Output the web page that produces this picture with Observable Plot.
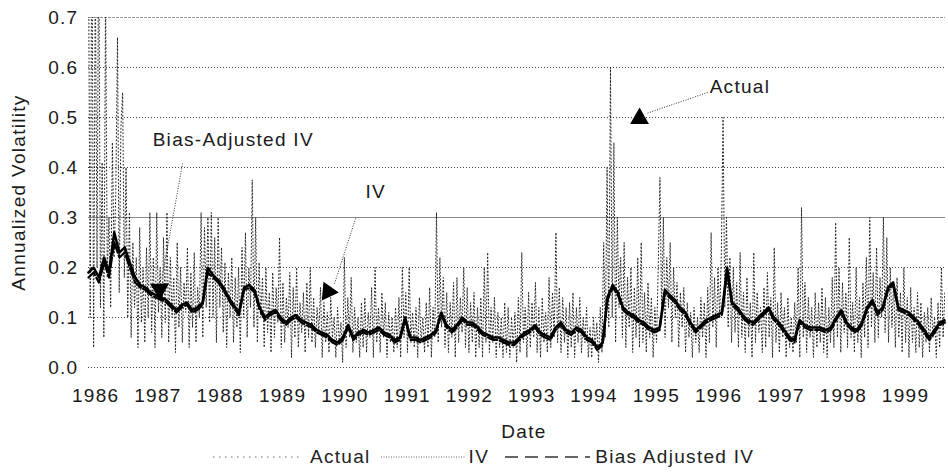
<!DOCTYPE html>
<html>
<head>
<meta charset="utf-8">
<script src="https://cdn.jsdelivr.net/npm/d3@7"></script>
<script src="https://cdn.jsdelivr.net/npm/@observablehq/plot@0.6"></script>
<style>
  html, body { margin: 0; padding: 0; background: #fff; }
  #wrap { width: 948px; height: 472px; position: relative; font-family: "Liberation Sans", Arial, sans-serif; }
  #legend { height: 30px; display: flex; align-items: center; font-size: 19px; letter-spacing: 1.3px; color: #222; padding-left: 213px; }
  #legend svg { display: block; }
</style>
</head>
<body>
<div id="wrap"><div id="chart"></div><div id="legend"></div></div>
<script>
// ---- data ----
const startDate = new Date(Date.UTC(1985, 10, 20));
const endDate = new Date(Date.UTC(1999, 7, 23));
const tickYears = [1986,1987,1988,1989,1990,1991,1992,1993,1994,1995,1996,1997,1998,1999];
const yTicks = [0, 0.1, 0.2, 0.3, 0.4, 0.5, 0.6, 0.7];

// Actual volatility, one value per 10 days from startDate
const actualValues = [
 .85,.10,.95,.04,.80,.20, .90,.12,.41,.06,.75,.18, .30,.12,.45,.22,.35,.66, .15,.48,.55,.18,.40,.10,
 .31,.06,.25,.12,.22,.04, .28,.09,.20,.05,.24,.10, .31,.07,.22,.04,.31,.11, .20,.06,.26,.09,.31,.05,
 .22,.10,.18,.03,.25,.08, .20,.05,.17,.11,.24,.04, .19,.08,.23,.05,.16,.10, .31,.06,.28,.12,.30,.09,
 .31,.10,.26,.05,.30,.12, .24,.07,.21,.04,.19,.10, .22,.05,.18,.08,.20,.03, .24,.10,.27,.06,.20,.12,
 .375,.08,.30,.05,.21,.10, .18,.04,.20,.07,.15,.03, .19,.06,.16,.09,.26,.04, .17,.05,.14,.08,.19,.02,
 .16,.06,.20,.04,.13,.07, .15,.03,.17,.06,.20,.05, .14,.04,.12,.07,.16,.02, .13,.05,.11,.03,.14,.06,
 .10,.02,.12,.05,.09,.01, .22,.04,.14,.06,.18,.03, .12,.05,.10,.02,.13,.04, .14,.03,.11,.06,.16,.02,
 .20,.05,.12,.03,.15,.06, .13,.02,.11,.05,.10,.03, .12,.04,.14,.02,.20,.06, .15,.03,.20,.05,.11,.04,
 .12,.02,.14,.05,.10,.03, .13,.04,.16,.02,.12,.06, .31,.05,.22,.08,.18,.04, .15,.03,.13,.06,.17,.02,
 .18,.05,.14,.07,.20,.04, .16,.03,.13,.05,.15,.02, .12,.04,.14,.02,.20,.05, .23,.03,.12,.05,.14,.02,
 .11,.04,.10,.02,.13,.03, .12,.02,.10,.04,.11,.01, .14,.03,.23,.05,.12,.02, .15,.04,.13,.06,.17,.03,
 .12,.02,.14,.05,.11,.03, .18,.04,.15,.06,.27,.05, .16,.03,.14,.05,.12,.02, .13,.04,.15,.02,.12,.05,
 .14,.03,.10,.05,.12,.02, .08,.02,.10,.04,.09,.01, .12,.03,.25,.06,.40,.08, .60,.10,.45,.05,.30,.12,
 .22,.06,.25,.04,.18,.08, .20,.03,.16,.06,.22,.04, .25,.05,.15,.03,.17,.06, .14,.02,.12,.05,.20,.38,
 .10,.30,.06,.22,.12,.25, .05,.20,.10,.17,.04,.15, .08,.16,.03,.13,.06,.11, .02,.12,.05,.10,.03,.14,
 .06,.13,.02,.16,.05,.27, .08,.18,.04,.20,.10,.23, .50,.12,.30,.08,.22,.05, .20,.07,.17,.04,.23,.06,
 .15,.03,.18,.06,.13,.02, .23,.05,.15,.07,.12,.03, .16,.04,.19,.06,.14,.02, .24,.05,.13,.03,.15,.06,
 .12,.02,.14,.04,.10,.03, .13,.05,.20,.02,.32,.06, .17,.03,.14,.06,.12,.02, .15,.04,.13,.05,.16,.03,
 .14,.02,.12,.05,.18,.04, .29,.06,.20,.03,.17,.07, .15,.04,.26,.06,.13,.03, .20,.05,.14,.02,.17,.06,
 .22,.04,.30,.08,.19,.05, .24,.06,.18,.10,.30,.07, .26,.05,.20,.08,.17,.04, .18,.06,.15,.03,.20,.05,
 .14,.02,.16,.05,.12,.03, .15,.04,.13,.02,.11,.05, .12,.03,.14,.06,.10,.02, .13,.04,.20,.06,.15
];

// Implied volatility, monthly from startDate
const ivValues = [
 .19,.20,.18,.22,.19,.27,.23,.24,.21,.18,
 .165,.16,.15,.145,.14,.135,.125,.115,.125,.13,
 .115,.12,.13,.20,.185,.175,.16,.14,.125,.11,
 .16,.165,.155,.12,.10,.11,.115,.10,.09,.10,
 .105,.095,.09,.085,.075,.07,.065,.055,.05,.06,
 .085,.06,.07,.075,.07,.075,.08,.07,.065,.055,
 .06,.10,.06,.06,.055,.06,.065,.075,.11,.085,
 .075,.085,.10,.09,.09,.08,.07,.065,.06,.06,
 .055,.05,.05,.06,.07,.075,.085,.07,.065,.06,
 .08,.09,.075,.07,.08,.075,.06,.055,.04,.05,
 .14,.165,.15,.12,.11,.105,.095,.09,.08,.075,
 .08,.155,.145,.135,.12,.11,.09,.075,.085,.095,
 .10,.105,.11,.20,.13,.12,.105,.095,.09,.10,
 .11,.12,.10,.09,.075,.06,.055,.095,.085,.08,
 .08,.08,.075,.08,.10,.115,.09,.08,.075,.09,
 .12,.135,.11,.12,.16,.17,.12,.115,.11,.10,
 .09,.075,.06,.075,.09,.095
];

// Bias-adjusted implied volatility, monthly from startDate
const baValues = [
 .18,.19,.17,.21,.18,.25,.22,.23,.20,.17,
 .16,.155,.145,.14,.135,.13,.12,.11,.12,.125,
 .11,.115,.125,.19,.18,.17,.155,.135,.12,.105,
 .155,.16,.15,.115,.095,.105,.11,.095,.085,.095,
 .10,.09,.085,.08,.07,.065,.06,.05,.045,.055,
 .08,.055,.065,.07,.065,.07,.075,.065,.06,.05,
 .055,.095,.055,.055,.05,.055,.06,.07,.105,.08,
 .07,.08,.095,.085,.085,.075,.065,.06,.055,.055,
 .05,.045,.045,.055,.065,.07,.08,.065,.06,.055,
 .075,.085,.07,.065,.075,.07,.055,.05,.035,.045,
 .135,.16,.145,.115,.105,.10,.09,.085,.075,.07,
 .075,.15,.14,.13,.115,.105,.085,.07,.08,.09,
 .095,.10,.105,.19,.125,.115,.10,.09,.085,.095,
 .105,.115,.095,.085,.07,.055,.05,.09,.08,.075,
 .075,.075,.07,.075,.095,.11,.085,.075,.07,.085,
 .115,.13,.105,.115,.155,.165,.115,.11,.105,.095,
 .085,.07,.055,.07,.085,.09
];

// annotations (data coordinates: decimal year, volatility)
const annotLabels = [
  {year: 1986.915, v: 0.456, text: "Bias-Adjusted IV"},
  {year: 1990.33, v: 0.352, text: "IV"},
  {year: 1995.855, v: 0.562, text: "Actual"}
];
const annotLinks = [
  {year1: 1987.396, v1: 0.408, year2: 1987.06, v2: 0.176},
  {year1: 1990.173, v1: 0.298, year2: 1989.83, v2: 0.166},
  {year1: 1995.823, v1: 0.550, year2: 1994.84, v2: 0.508}
];
const annotHeads = [
  {year: 1987.03, v: 0.157, angle: 178},
  {year: 1989.73, v: 0.152, angle: 95},
  {year: 1994.73, v: 0.498, angle: 0}
];

// ---- build ----
const yearToDate = y => new Date(Date.UTC(1970, 0, 1) + (y - 1970) * 365.2425 * 864e5);
const actual = actualValues.map((v, i) => ({date: d3.utcDay.offset(startDate, 10 * i), v}));
const iv = ivValues.map((v, i) => ({date: d3.utcMonth.offset(startDate, i), v}));
const ba = baValues.map((v, i) => ({date: d3.utcMonth.offset(startDate, i), v}));
const tickDates = tickYears.map(y => new Date(Date.UTC(y, 0, 1)));
const labels = annotLabels.map(d => ({...d, date: yearToDate(d.year)}));
const links = annotLinks.map(d => ({...d, d1: yearToDate(d.year1), d2: yearToDate(d.year2)}));
const heads = annotHeads.map(d => ({...d, date: yearToDate(d.year)}));

const textStyle = {fontFamily: "'Liberation Sans', Arial, sans-serif", fontSize: 19};

const chart = Plot.plot({
  width: 948,
  height: 442,
  marginLeft: 88,
  marginRight: 3,
  marginTop: 17,
  marginBottom: 75,
  style: {fontFamily: "'Liberation Sans', Arial, sans-serif", fontSize: "19px", letterSpacing: "1.3px", color: "#1a1a1a", background: "white"},
  x: {type: "utc", domain: [startDate, endDate], ticks: tickDates, tickFormat: d3.utcFormat("%Y"), tickSize: 0, tickPadding: 21, label: null},
  y: {domain: [0, 0.7], ticks: yTicks, tickFormat: d3.format(".1f"), tickSize: 0, tickPadding: 10, label: null},
  marks: [
    Plot.ruleY(yTicks.filter(t => t !== 0.3 && t !== 0.7), {stroke: "#444", strokeDasharray: "1,2"}),
    Plot.ruleY([0.3], {stroke: "#888", strokeWidth: 1.2}),
    Plot.ruleY([0.7], {stroke: "#999", strokeDasharray: "3,1"}),
    Plot.line(actual, {x: "date", y: "v", stroke: "#222", strokeWidth: 1, strokeDasharray: "1,2.5", clip: true}),
    Plot.line(ba, {x: "date", y: "v", stroke: "#000", strokeWidth: 2.2, strokeDasharray: "10,3"}),
    Plot.line(iv, {x: "date", y: "v", stroke: "#000", strokeWidth: 2.6, strokeDasharray: "1.5,1"}),
    Plot.link(links, {x1: "d1", y1: "v1", x2: "d2", y2: "v2", stroke: "#333", strokeDasharray: "1,1.5"}),
    Plot.dot(heads, {x: "date", y: "v", symbol: "triangle", r: 7, fill: "#000", stroke: "none", rotate: "angle"}),
    Plot.text(labels, {x: "date", y: "v", text: "text", textAnchor: "start", fill: "#1a1a1a", ...textStyle}),
    Plot.text(["Annualized Volatility"], {frameAnchor: "left", textAnchor: "middle", lineAnchor: "middle", rotate: -90, dx: -70, fill: "#1a1a1a", ...textStyle}),
    Plot.text(["Date"], {frameAnchor: "bottom", textAnchor: "middle", lineAnchor: "middle", dy: 64, dx: 7, fill: "#1a1a1a", ...textStyle})
  ]
});
document.getElementById("chart").appendChild(chart);

// ---- legend ----
const legendItems = [
  {label: "Actual", w: 90, gapBefore: 0, gapAfter: 7, color: "#999", width: 1.5, dash: "1.5,4.5"},
  {label: "IV", w: 85, gapBefore: 10, gapAfter: 3, color: "#666", width: 1.2, dash: "1,1.5"},
  {label: "Bias Adjusted IV", w: 85, gapBefore: 16, gapAfter: 5, color: "#333", width: 1.6, dash: "13,7"}
];
const legend = d3.select("#legend");
legendItems.forEach(it => {
  const s = legend.append("svg").attr("width", it.w).attr("height", 10).style("margin-left", it.gapBefore + "px").style("margin-right", it.gapAfter + "px");
  s.append("line").attr("x1", 0).attr("x2", it.w).attr("y1", 5).attr("y2", 5)
    .attr("stroke", it.color).attr("stroke-width", it.width).attr("stroke-dasharray", it.dash);
  legend.append("span").text(it.label);
});
</script>
</body>
</html>
